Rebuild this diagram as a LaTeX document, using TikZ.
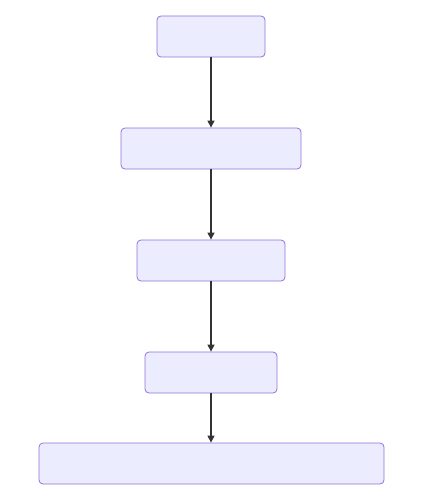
\documentclass[tikz,border=0pt]{standalone}
\usetikzlibrary{arrows.meta}
\definecolor{boxfill}{HTML}{ECECFF}
\definecolor{boxline}{HTML}{9370DB}
\definecolor{edge}{HTML}{333333}
\begin{document}
\begin{tikzpicture}[x=1pt,y=-1pt,
  flowbox/.style={draw=boxline,fill=boxfill,line width=0.8pt,rounded corners=4pt,minimum height=41pt,inner sep=0pt},
  flowarrow/.style={draw=edge,line width=1.3pt,-{Triangle[length=7pt,width=7pt]}}]
\useasboundingbox (0,0) rectangle (431,492);
\node[flowbox,minimum width=108pt] (a) at (211,36.5) {};
\node[flowbox,minimum width=180pt] (b) at (211,148.5) {};
\node[flowbox,minimum width=148pt] (c) at (211,260.5) {};
\node[flowbox,minimum width=132pt] (d) at (211,372.5) {};
\node[flowbox,minimum width=345pt] (e) at (211.5,463.5) {};
\draw[flowarrow] (a.south) -- (b.north);
\draw[flowarrow] (b.south) -- (c.north);
\draw[flowarrow] (c.south) -- (d.north);
\draw[flowarrow] (d.south) -- (e.north -| d.south);
\end{tikzpicture}
\end{document}
